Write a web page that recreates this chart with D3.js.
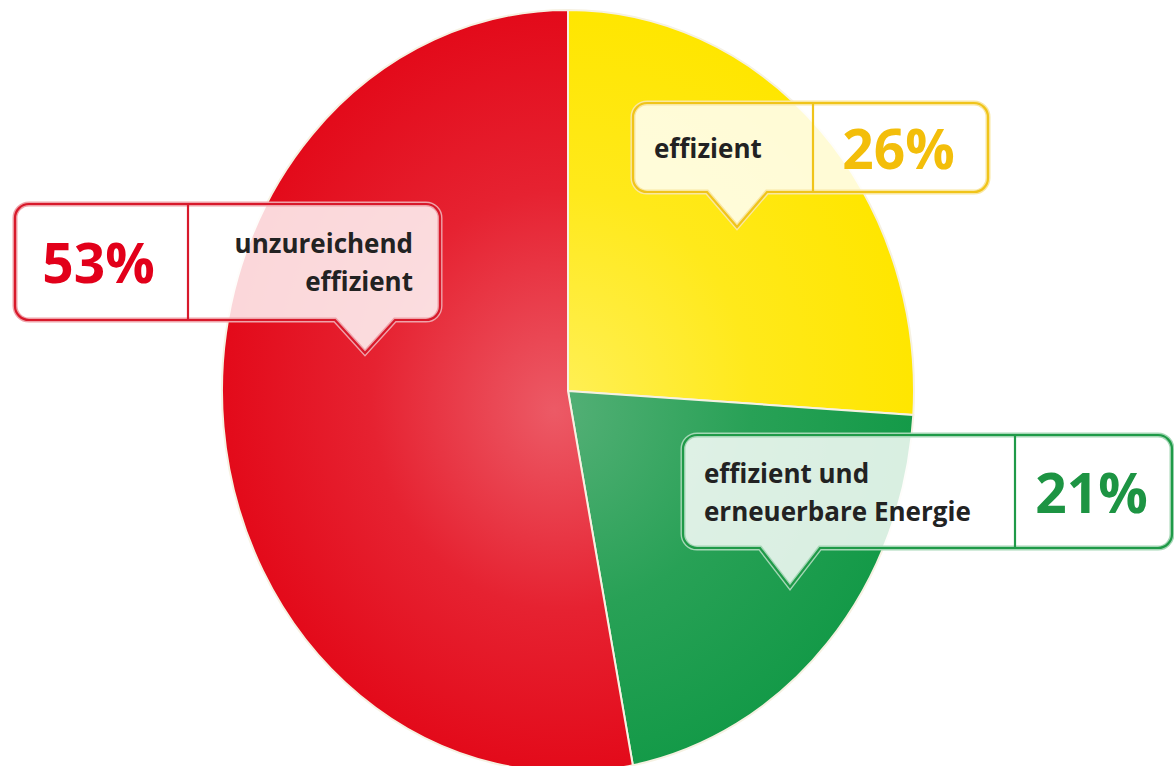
<!DOCTYPE html>
<html>
<head>
<meta charset="utf-8">
<script src="https://cdn.jsdelivr.net/npm/d3@7"></script>
<style>
  body { margin: 0; background: #fff; }
  svg { display: block; font-family: "Open Sans", "Noto Sans", sans-serif; }
</style>
</head>
<body>
<div id="chart"></div>
<script>
// Data (clockwise from 12 o'clock)
const categories = ["effizient", "effizient und erneuerbare Energie", "unzureichend effizient"];
const labelLines = [["effizient"], ["effizient und", "erneuerbare Energie"], ["unzureichend", "effizient"]];
const values = [26, 21, 53];

// colours per slice: edge, centre, box stroke, percent text
const sliceColors = ["#ffe600", "#149a48", "#e30a1a"];
const centerColors = ["#fff05a", "#55b077", "#ec5a66"];
const boxColors = ["#f0c41a", "#1f9a48", "#d8192b"];
const pctColors = ["#f3be0a", "#1d9443", "#e2001a"];

const width = 1174, height = 766;
const cx = 568, cy = 391, rx = 346, ry = 381;

const svg = d3.select("#chart")
  .append("svg")
  .attr("width", width)
  .attr("height", height);

const defs = svg.append("defs");

// radial gradients per slice, light at centre
sliceColors.forEach((c, i) => {
  const g = defs.append("radialGradient")
    .attr("id", "grad" + i)
    .attr("gradientUnits", "userSpaceOnUse")
    .attr("cx", 0).attr("cy", 0).attr("r", ry)
    .attr("fx", -15).attr("fy", 20);
  g.append("stop").attr("offset", "0%").attr("stop-color", centerColors[i]);
  g.append("stop").attr("offset", "55%").attr("stop-color", d3.interpolateRgb(centerColors[i], c)(0.7));
  g.append("stop").attr("offset", "100%").attr("stop-color", c);
});

const pie = d3.pie().sort(null).value(d => d);
const arcs = pie(values);
const arc = d3.arc().innerRadius(0).outerRadius(ry);

const pieG = svg.append("g")
  .attr("transform", `translate(${cx},${cy}) scale(${rx / ry},1)`);

pieG.selectAll("path")
  .data(arcs)
  .enter().append("path")
  .attr("d", arc)
  .attr("fill", (d, i) => `url(#grad${i})`)
  .attr("stroke", "#f6f1e2")
  .attr("stroke-width", 2)
  .attr("vector-effect", "non-scaling-stroke");

// callout boxes (layout only)
const boxes = [
  { x0: 633, x1: 988, y0: 103, y1: 192, div: 813, tipX: 737, tipY: 227, pctRight: true },
  { x0: 683, x1: 1172, y0: 435, y1: 548, div: 1015, tipX: 790, tipY: 587, pctRight: true },
  { x0: 15, x1: 440, y0: 204, y1: 320, div: 188, tipX: 365, tipY: 353, pctRight: false }
];

function calloutPath(b) {
  const r = 14, hw = 30;
  const p = d3.path();
  p.moveTo(b.x0 + r, b.y0);
  p.lineTo(b.x1 - r, b.y0);
  p.arcTo(b.x1, b.y0, b.x1, b.y0 + r, r);
  p.lineTo(b.x1, b.y1 - r);
  p.arcTo(b.x1, b.y1, b.x1 - r, b.y1, r);
  p.lineTo(b.tipX + hw, b.y1);
  p.lineTo(b.tipX, b.tipY);
  p.lineTo(b.tipX - hw, b.y1);
  p.lineTo(b.x0 + r, b.y1);
  p.arcTo(b.x0, b.y1, b.x0, b.y1 - r, r);
  p.lineTo(b.x0, b.y0 + r);
  p.arcTo(b.x0, b.y0, b.x0 + r, b.y0, r);
  p.closePath();
  return p.toString();
}

const callouts = svg.selectAll(".callout")
  .data(arcs)
  .enter().append("g")
  .attr("class", "callout");

// light halo
callouts.append("path")
  .attr("d", (d, i) => calloutPath(boxes[i]))
  .attr("fill", "#fff")
  .attr("fill-opacity", 0.84)
  .attr("stroke", (d, i) => d3.interpolateRgb(boxColors[i], "#fff")(0.6))
  .attr("stroke-width", 5);

callouts.append("path")
  .attr("d", (d, i) => calloutPath(boxes[i]))
  .attr("fill", "none")
  .attr("stroke", (d, i) => boxColors[i])
  .attr("stroke-width", 2.2);

callouts.append("line")
  .attr("x1", (d, i) => boxes[i].div)
  .attr("x2", (d, i) => boxes[i].div)
  .attr("y1", (d, i) => boxes[i].y0)
  .attr("y2", (d, i) => boxes[i].y1)
  .attr("stroke", (d, i) => boxColors[i])
  .attr("stroke-width", 2.2);

// percent text
callouts.append("text")
  .attr("x", (d, i) => boxes[i].pctRight ? (boxes[i].div + boxes[i].x1) / 2 - 2 : (boxes[i].x0 + boxes[i].div) / 2 - 3)
  .attr("y", (d, i) => (boxes[i].y0 + boxes[i].y1) / 2 + 21)
  .attr("text-anchor", "middle")
  .style("font-size", "55px")
  .style("font-weight", 700)
  .attr("fill", (d, i) => pctColors[i])
  .text(d => d.data + "%");

// category labels
callouts.each(function (d, i) {
  const b = boxes[i];
  const lines = labelLines[i];
  const lh = 38;
  const mid = (b.y0 + b.y1) / 2;
  const t = d3.select(this).append("text")
    .attr("text-anchor", b.pctRight ? "start" : "end")
    .style("font-size", "26px")
    .style("font-weight", 700)
    .attr("fill", "#222");
  lines.forEach((ln, j) => {
    t.append("tspan")
      .attr("x", b.pctRight ? b.x0 + 21 : b.x1 - 27)
      .attr("y", mid + 10 + (j - (lines.length - 1) / 2) * lh)
      .text(ln);
  });
});
</script>
</body>
</html>
